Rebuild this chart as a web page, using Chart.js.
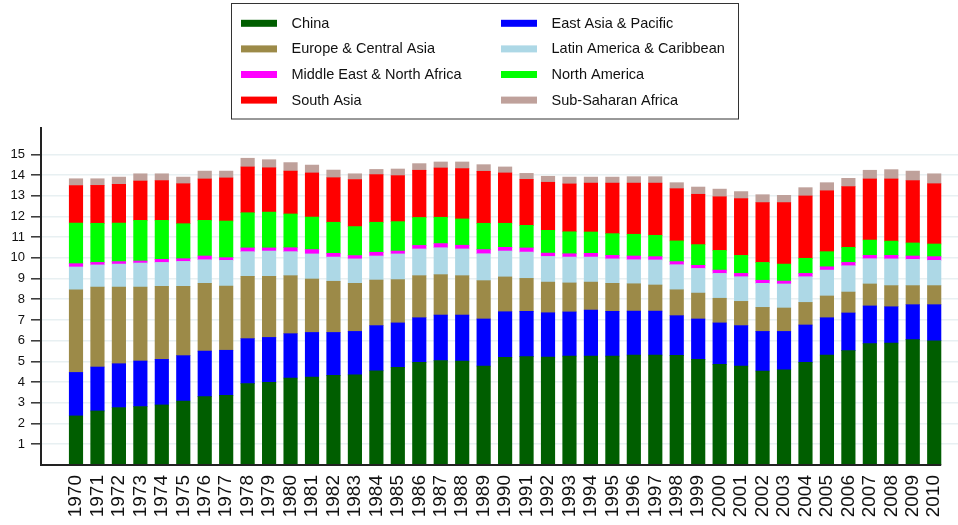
<!DOCTYPE html>
<html>
<head>
<meta charset="utf-8">
<script src="https://cdn.jsdelivr.net/npm/chart.js@4.4.1/dist/chart.umd.min.js"></script>
<style>
html,body{margin:0;padding:0;background:#fff;}
canvas{display:block;}
</style>
</head>
<body>
<canvas id="c" width="958" height="525"></canvas>
<script>
const years = [1970,1971,1972,1973,1974,1975,1976,1977,1978,1979,1980,1981,1982,1983,1984,1985,1986,1987,1988,1989,1990,1991,1992,1993,1994,1995,1996,1997,1998,1999,2000,2001,2002,2003,2004,2005,2006,2007,2008,2009,2010];

const china      = [2.37,2.61,2.77,2.82,2.90,3.09,3.30,3.36,3.93,3.99,4.20,4.25,4.33,4.35,4.55,4.72,4.96,5.04,5.02,4.78,5.20,5.23,5.21,5.26,5.26,5.26,5.31,5.31,5.29,5.10,4.86,4.78,4.54,4.60,4.96,5.31,5.52,5.86,5.89,6.05,6.00];
const eastAsia   = [2.10,2.12,2.12,2.20,2.20,2.19,2.20,2.18,2.17,2.17,2.14,2.15,2.07,2.10,2.18,2.14,2.15,2.20,2.22,2.27,2.20,2.19,2.14,2.13,2.22,2.16,2.12,2.12,1.92,1.95,2.00,1.95,1.91,1.85,1.80,1.80,1.82,1.82,1.75,1.69,1.74];
const europe     = [3.99,3.86,3.70,3.57,3.53,3.35,3.27,3.10,3.01,2.95,2.80,2.58,2.47,2.32,2.20,2.09,2.03,1.95,1.90,1.85,1.68,1.59,1.48,1.40,1.35,1.35,1.32,1.26,1.25,1.25,1.19,1.17,1.16,1.13,1.09,1.05,1.01,1.06,1.02,0.92,0.92];
const latinAm    = [1.10,1.07,1.11,1.16,1.15,1.20,1.14,1.24,1.19,1.22,1.16,1.21,1.17,1.18,1.16,1.24,1.29,1.30,1.29,1.30,1.25,1.27,1.24,1.25,1.21,1.18,1.16,1.21,1.21,1.19,1.20,1.19,1.16,1.16,1.24,1.25,1.27,1.22,1.29,1.27,1.22];
const middleEast = [0.16,0.12,0.12,0.10,0.15,0.13,0.18,0.13,0.18,0.15,0.19,0.21,0.18,0.16,0.18,0.14,0.17,0.20,0.18,0.20,0.18,0.20,0.16,0.16,0.18,0.17,0.18,0.16,0.15,0.15,0.16,0.16,0.15,0.14,0.16,0.16,0.16,0.16,0.17,0.16,0.18];
const northAm    = [1.96,1.89,1.86,1.96,1.88,1.69,1.72,1.77,1.70,1.73,1.63,1.57,1.50,1.40,1.45,1.42,1.35,1.27,1.27,1.27,1.16,1.09,1.10,1.06,1.03,1.05,1.05,1.03,1.00,1.00,0.95,0.87,0.86,0.82,0.73,0.73,0.73,0.74,0.69,0.63,0.61];
const southAsia  = [1.81,1.83,1.87,1.90,1.92,1.93,2.00,2.08,2.21,2.14,2.07,2.13,2.15,2.27,2.30,2.22,2.28,2.38,2.43,2.51,2.43,2.22,2.32,2.31,2.36,2.44,2.47,2.52,2.52,2.43,2.59,2.74,2.89,2.97,3.01,2.94,2.93,2.95,3.00,3.01,2.91];
const subSaharan = [0.33,0.32,0.35,0.35,0.33,0.32,0.38,0.33,0.42,0.39,0.41,0.38,0.37,0.28,0.25,0.32,0.32,0.29,0.32,0.32,0.29,0.29,0.29,0.33,0.29,0.29,0.31,0.31,0.29,0.35,0.37,0.34,0.38,0.35,0.40,0.39,0.40,0.42,0.45,0.46,0.48];

const seriesNames = ["China","East Asia & Pacific","Europe & Central Asia","Latin America & Caribbean","Middle East & North Africa","North America","South Asia","Sub-Saharan Africa"];
const seriesColors = ["#005e00","#0000ff","#9c8a48","#add8e6","#ff00ff","#00ff00","#ff0000","#bfa19b"];
const seriesData = [china, eastAsia, europe, latinAm, middleEast, northAm, southAsia, subSaharan];
const yTickValues = [1,2,3,4,5,6,7,8,9,10,11,12,13,14,15];

const FONT = '"Liberation Sans", Arial, Helvetica, sans-serif';

const extras = {
  id: 'extras',
  afterDraw(chart) {
    const ctx = chart.ctx;
    const area = chart.chartArea;
    const xs = chart.scales.x;
    ctx.save();
    // x axis line (ends at the last bar)
    ctx.strokeStyle = '#222';
    ctx.lineWidth = 2;
    ctx.beginPath();
    ctx.moveTo(area.left - 1, area.bottom);
    ctx.lineTo(xs.getPixelForValue(years[years.length - 1]) + 7, area.bottom);
    ctx.stroke();
    // legend box
    ctx.strokeStyle = '#333';
    ctx.lineWidth = 1;
    ctx.strokeRect(231.5, 3.5, 507, 115.5);
    ctx.font = '14.5px ' + FONT;
    ctx.textBaseline = 'middle';
    ctx.textAlign = 'left';
    chart.data.datasets.forEach((ds, i) => {
      const col = i % 2, row = Math.floor(i / 2);
      const sx = col ? 501 : 241;
      const cy = 23.3 + row * 25.6;
      ctx.fillStyle = ds.backgroundColor;
      ctx.fillRect(sx, cy - 3.5, 36, 7);
      ctx.fillStyle = '#111';
      ctx.fillText(ds.label, sx + 50.5, cy + 0.5);
    });
    ctx.restore();
  }
};

new Chart(document.getElementById('c'), {
  type: 'bar',
  data: {
    labels: years,
    datasets: seriesData.map((d, i) => ({
      label: seriesNames[i],
      data: d,
      backgroundColor: seriesColors[i],
      borderWidth: 0,
      barThickness: 13.5,
      stack: 's'
    }))
  },
  options: {
    responsive: false,
    animation: false,
    devicePixelRatio: 1,
    layout: { padding: { top: 128, left: 0, right: 0, bottom: 0 } },
    plugins: { legend: { display: false }, tooltip: { enabled: false } },
    scales: {
      x: {
        type: 'linear',
        stacked: true,
        min: 1968.369,
        max: 2011.109,
        offset: false,
        grid: { display: false, drawTicks: false },
        border: { display: false },
        afterBuildTicks: (axis) => { axis.ticks = years.map(v => ({ value: v })); },
        afterFit: (axis) => { axis.height = 60; axis.paddingLeft = 0; axis.paddingRight = 0; },
        ticks: {
          autoSkip: false,
          minRotation: 90,
          maxRotation: 90,
          padding: 10,
          color: '#111',
          font: { family: FONT, size: 19 },
          callback: (v) => String(v)
        }
      },
      y: {
        stacked: true,
        min: 0,
        max: 16.27,
        afterBuildTicks: (axis) => { axis.ticks = yTickValues.map(v => ({ value: v })); },
        afterFit: (axis) => { axis.width = 41; axis.paddingTop = 0; axis.paddingBottom = 0; },
        grid: {
          color: '#e8f0f2',
          lineWidth: 1.6,
          drawTicks: true,
          tickLength: 10,
          tickColor: '#333',
          tickWidth: 1.5
        },
        border: { display: true, color: '#222', width: 2 },
        ticks: {
          padding: 6,
          color: '#111',
          font: { family: FONT, size: 13 },
          callback: (v) => String(v)
        }
      }
    }
  },
  plugins: [extras]
});
</script>
</body>
</html>
